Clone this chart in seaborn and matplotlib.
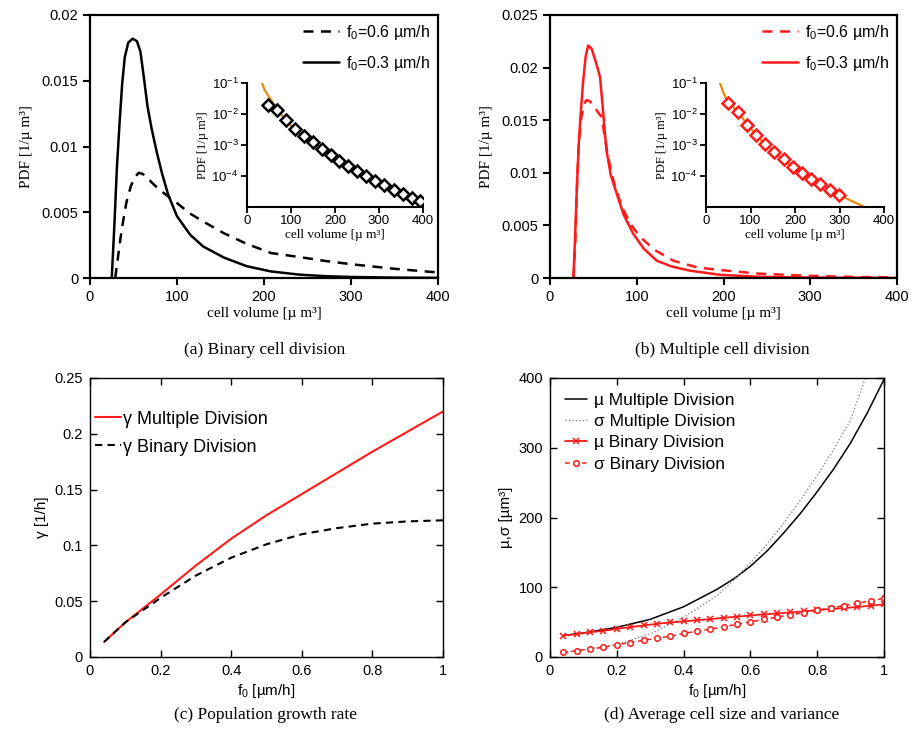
import numpy as np
import pandas as pd
import matplotlib
matplotlib.use("Agg")
import matplotlib.pyplot as plt
import seaborn as sns
from matplotlib.ticker import FixedLocator, NullLocator, FuncFormatter

# ---------------- data ----------------
# (a) binary division: cell-volume PDFs
vol_bin_03 = [25, 28, 31, 34, 37, 40, 44, 49, 54, 58, 62, 66, 71, 77, 83, 90, 100, 115, 130,
              154, 180, 208, 240, 270, 300, 350, 400]
pdf_bin_03 = [0.0, 0.004, 0.0085, 0.0118, 0.0148, 0.0168, 0.0179, 0.0182, 0.0180, 0.0172, 0.0152,
              0.0131, 0.0113, 0.0095, 0.0079, 0.0063, 0.0047, 0.0033, 0.0024, 0.00155, 0.0009,
              0.0005, 0.00026, 0.00014, 0.00008, 0.00003, 0.00001]
vol_bin_06 = [29, 32, 35, 38, 42, 47, 52, 56, 61, 66, 72, 80, 88, 100, 115, 130, 154, 180, 208,
              240, 270, 300, 350, 400]
pdf_bin_06 = [0.0, 0.0015, 0.003, 0.0043, 0.0058, 0.0070, 0.0077, 0.0080, 0.0079, 0.0076, 0.0072,
              0.0067, 0.0063, 0.0057, 0.0049, 0.0043, 0.0034, 0.0026, 0.0019, 0.0016, 0.0013,
              0.00105, 0.0007, 0.00042]

# (b) multiple division: cell-volume PDFs
vol_mul_03 = [27, 29, 31, 33, 35, 38, 41, 44, 48, 53, 57.7, 61, 65, 70, 77, 85, 96, 108, 123,
              140, 161, 196, 240, 300, 400]
pdf_mul_03 = [0.0, 0.004, 0.0086, 0.0125, 0.0152, 0.0185, 0.0210, 0.0221, 0.0218, 0.0205, 0.0191,
              0.0160, 0.0122, 0.0098, 0.0080, 0.0060, 0.0042, 0.0028, 0.00165, 0.0011, 0.0007,
              0.0003, 0.00012, 0.00004, 0.000005]
vol_mul_06 = [27, 29, 31, 33, 36, 39, 42, 46, 50, 55, 59.6, 63, 67, 73, 79, 85, 94, 104, 120,
              142, 170, 196, 240, 300, 350, 400]
pdf_mul_06 = [0.0, 0.003, 0.0085, 0.0125, 0.0152, 0.0165, 0.0169, 0.0168, 0.0164, 0.0158, 0.0153,
              0.0135, 0.0115, 0.0093, 0.0077, 0.0064, 0.0050, 0.0039, 0.0027, 0.00165, 0.0010,
              0.00076, 0.00042, 0.0002, 0.0001, 0.00005]

# insets: histogram points and fitted tail
hist_bin_vol = [47, 67.5, 88, 108, 128.5, 149, 169.5, 190, 210, 230.5, 251, 271.5, 292, 312,
                333, 353.5, 374, 394]
hist_bin_pdf = [0.0189, 0.0130, 0.00647, 0.00322, 0.00201, 0.00122, 0.00074, 0.000474, 0.00031,
                0.000208, 0.000147, 0.000099, 0.0000697, 0.0000504, 0.0000365, 0.000027,
                0.0000201, 0.0000153]
fit_bin_vol = [34, 40, 47, 57, 69, 88, 108, 128, 149, 170, 190, 210, 230, 251, 272, 292, 313,
               333, 354, 375, 400]
fit_bin_pdf = [0.1, 0.06, 0.042, 0.025, 0.0137, 0.0065, 0.0032, 0.0020, 0.00122, 0.00074,
               0.00047, 0.00031, 0.00021, 0.000147, 0.0001, 0.00007, 0.00005, 0.0000365,
               0.000027, 0.00002, 0.000014]

hist_mul_vol = [50, 72.4, 92, 112, 132.4, 153.3, 174.2, 194.4, 215.3, 235.5, 256.4, 278, 298.3]
hist_mul_pdf = [0.0225, 0.0112, 0.00446, 0.00211, 0.00105, 0.000593, 0.000343, 0.000198,
                0.000127, 0.000083, 0.0000543, 0.0000365, 0.0000251]
fit_mul_vol = [31.4, 40, 50, 72, 92, 112, 132, 153, 174, 194, 215, 236, 256, 278, 298, 327, 357]
fit_mul_pdf = [0.1, 0.045, 0.0245, 0.0115, 0.0047, 0.0022, 0.00107, 0.0006, 0.00034, 0.0002,
               0.000127, 0.000083, 0.000054, 0.0000365, 0.000025, 0.0000157, 0.00001]

# (c) population growth rate
f0_gamma = [0.04, 0.1, 0.2, 0.3, 0.4, 0.5, 0.6, 0.7, 0.8, 0.9, 1.0]
gamma_multiple = [0.0135, 0.031, 0.056, 0.082, 0.106, 0.127, 0.146, 0.165, 0.184, 0.202, 0.220]
gamma_binary = [0.0135, 0.031, 0.053, 0.073, 0.089, 0.101, 0.110, 0.1155, 0.1195, 0.1215, 0.1225]

# (d) mean and spread of cell size
f0_binary = [0.04, 0.08, 0.12, 0.16, 0.20, 0.24, 0.28, 0.32, 0.36, 0.40, 0.44, 0.48, 0.52,
             0.56, 0.60, 0.64, 0.68, 0.72, 0.76, 0.80, 0.84, 0.88, 0.92, 0.96, 1.00]
mu_binary = [30.8, 32.7, 35.6, 37.5, 40.4, 42.8, 45.2, 47.6, 49.5, 51.0, 52.9, 54.3, 56.3, 57.7,
             59.6, 61.1, 62.5, 63.9, 65.4, 67.3, 68.8, 70.2, 71.6, 73.6, 75.5]
sigma_binary = [6.7, 9.1, 11.5, 13.9, 17.8, 20.7, 24.0, 26.9, 29.8, 33.7, 37.0, 39.9, 43.3, 47.1,
                50.5, 53.8, 57.2, 60.6, 63.5, 67.3, 70.2, 73.6, 76.9, 80.8, 84.1]
f0_multiple = [0.04, 0.1, 0.2, 0.3, 0.4, 0.5, 0.55, 0.6, 0.65, 0.7, 0.75, 0.8, 0.85, 0.9, 0.95, 1.0]
mu_multiple = [30.8, 34.5, 42.5, 54, 72, 97, 112, 130, 152, 178, 206, 237, 270, 307, 350, 398]
sigma_multiple = [7, 10, 18, 33, 57, 88, 110, 135, 162, 192, 225, 260, 298, 340, 408, 480]

# ---------------- style ----------------
sns.set_style("ticks")
plt.rcParams["font.family"] = ["Liberation Sans", "DejaVu Sans"]
plt.rcParams["mathtext.fontset"] = "custom"
plt.rcParams["mathtext.rm"] = "Liberation Sans"
plt.rcParams["mathtext.it"] = "Liberation Sans:italic"
for k in ["axes.edgecolor", "axes.labelcolor", "text.color", "xtick.color", "ytick.color"]:
    plt.rcParams[k] = "black"

SERIF = ["Liberation Serif", "DejaVu Serif"]
ORANGE = "#e8890c"
RED = "#ff1a1a"
W, H = 917, 742

fig = plt.figure(figsize=(W / 100, H / 100), dpi=100)


def box(l, t, r, b):
    return [l / W, 1 - b / H, (r - l) / W, (b - t) / H]


gfmt = FuncFormatter(lambda v, p: "%g" % v)


def pdf_panel(ax, v6, p6, v3, p3, color, ymax, yticks):
    sns.lineplot(x=v6, y=p6, ax=ax, color=color, linewidth=1.8, linestyle=(0, (4, 3)),
                 label=r"$\mathregular{f_0}$=0.6 µm/h")
    sns.lineplot(x=v3, y=p3, ax=ax, color=color, linewidth=1.8,
                 label=r"$\mathregular{f_0}$=0.3 µm/h")
    ax.set_xlim(0, 400)
    ax.set_ylim(0, ymax)
    ax.xaxis.set_major_locator(FixedLocator([0, 100, 200, 300, 400]))
    ax.yaxis.set_major_locator(FixedLocator(yticks))
    ax.yaxis.set_major_formatter(gfmt)
    ax.tick_params(direction="out", length=5, width=1.5, labelsize=10.5, top=False, right=False)
    for s in ax.spines.values():
        s.set_linewidth(1.6)
    ax.set_xlabel("cell volume [µ m³]", family=SERIF, fontsize=11, labelpad=2)
    ax.set_ylabel("PDF [1/µ m³]", family=SERIF, fontsize=11, labelpad=6)
    ax.legend(loc="upper right", frameon=False, fontsize=11.5, handlelength=2.3,
              handletextpad=0.4, labelspacing=0.75, borderaxespad=0.2, borderpad=0.3)


def inset(ax, hv, hp, fv, fp, mcolor):
    sns.lineplot(x=fv, y=fp, ax=ax, color=ORANGE, linewidth=1.6)
    sns.lineplot(x=hv, y=hp, ax=ax, linestyle="", marker="D", markersize=6.5,
                 markerfacecolor="white", markeredgecolor=mcolor, markeredgewidth=1.8)
    ax.set_yscale("log")
    ax.set_xlim(0, 400)
    ax.set_ylim(1e-5, 1e-1)
    ax.yaxis.set_major_locator(FixedLocator([1e-4, 1e-3, 1e-2, 1e-1]))
    ax.yaxis.set_minor_locator(NullLocator())
    ax.xaxis.set_major_locator(FixedLocator([0, 100, 200, 300, 400]))
    ax.tick_params(direction="out", length=4, width=1.3, labelsize=9.5, pad=2)
    ax.spines["top"].set_visible(False)
    ax.spines["right"].set_visible(False)
    for s in ["left", "bottom"]:
        ax.spines[s].set_linewidth(1.5)
    ax.patch.set_alpha(0)
    ax.set_xlabel("cell volume [µ m³]", family=SERIF, fontsize=9.5, labelpad=1)
    ax.set_ylabel("PDF [1/µ m³]", family=SERIF, fontsize=9, labelpad=2)


# (a)
ax_a = fig.add_axes(box(90, 15, 438, 278))
pdf_panel(ax_a, vol_bin_06, pdf_bin_06, vol_bin_03, pdf_bin_03, "black", 0.02,
          [0, 0.005, 0.01, 0.015, 0.02])
ax_ai = fig.add_axes(box(247, 83, 423, 207))
inset(ax_ai, hist_bin_vol, hist_bin_pdf, fit_bin_vol, fit_bin_pdf, "black")

# (b)
ax_b = fig.add_axes(box(550, 15, 897, 278))
pdf_panel(ax_b, vol_mul_06, pdf_mul_06, vol_mul_03, pdf_mul_03, RED, 0.025,
          [0, 0.005, 0.01, 0.015, 0.02, 0.025])
ax_bi = fig.add_axes(box(706, 83, 884, 207))
inset(ax_bi, hist_mul_vol, hist_mul_pdf, fit_mul_vol, fit_mul_pdf, RED)


def lower_axes(ax, ymax, yticks):
    ax.set_xlim(0, 1)
    ax.set_ylim(0, ymax)
    ax.xaxis.set_major_locator(FixedLocator([0, 0.2, 0.4, 0.6, 0.8, 1.0]))
    ax.yaxis.set_major_locator(FixedLocator(yticks))
    ax.xaxis.set_major_formatter(gfmt)
    ax.yaxis.set_major_formatter(gfmt)
    ax.tick_params(direction="in", length=5, width=1.0, labelsize=10.5, top=True, right=True,
                   pad=5)
    for s in ax.spines.values():
        s.set_linewidth(1.0)
    ax.set_xlabel(r"$\mathregular{f_0}$ [µm/h]", fontsize=11, labelpad=3)


# (c)
ax_c = fig.add_axes(box(90, 378, 443, 657))
sns.lineplot(x=f0_gamma, y=gamma_multiple, ax=ax_c, color=RED, linewidth=1.5,
             label="γ Multiple Division")
sns.lineplot(x=f0_gamma, y=gamma_binary, ax=ax_c, color="black", linewidth=1.5,
             linestyle=(0, (3.5, 2.5)), label="γ Binary Division")
lower_axes(ax_c, 0.25, [0, 0.05, 0.1, 0.15, 0.2, 0.25])
ax_c.set_ylabel("γ [1/h]", fontsize=11, labelpad=4)
ax_c.legend(loc="upper left", bbox_to_anchor=(-0.012, 0.915), frameon=False, fontsize=13,
            handlelength=1.45, handletextpad=0.1, labelspacing=0.6, borderpad=0)

# (d)
ax_d = fig.add_axes(box(550, 378, 884, 657))
sns.lineplot(x=f0_multiple, y=mu_multiple, ax=ax_d, color="black", linewidth=1.1,
             label="µ Multiple Division")
sns.lineplot(x=f0_multiple, y=sigma_multiple, ax=ax_d, color="#8c8c8c", linewidth=1.0,
             linestyle=(0, (1, 1.5)), label="σ Multiple Division")
sns.lineplot(x=f0_binary, y=mu_binary, ax=ax_d, color=RED, linewidth=1.3, marker="x",
             markersize=4.5, markeredgewidth=1.1, markeredgecolor=RED,
             label="µ Binary Division")
sns.lineplot(x=f0_binary, y=sigma_binary, ax=ax_d, color=RED, linewidth=1.1,
             linestyle=(0, (3, 2.5)), marker="o", markersize=4, markerfacecolor="white",
             markeredgecolor=RED, markeredgewidth=1.1, label="σ Binary Division")
lower_axes(ax_d, 400, [0, 100, 200, 300, 400])
ax_d.set_ylabel("µ,σ [µm³]", fontsize=11, labelpad=4)
ax_d.legend(loc="upper left", bbox_to_anchor=(0.0, 1.0), frameon=False, fontsize=12.5,
            handlelength=1.3, handletextpad=0.4, labelspacing=0.35, borderpad=0.35)

# captions
cap = dict(family=SERIF, fontsize=12.5, ha="center", va="center")
fig.text(265 / W, 1 - 350 / H, "(a) Binary cell division", **cap)
fig.text(722 / W, 1 - 350 / H, "(b) Multiple cell division", **cap)
fig.text(265 / W, 1 - 715 / H, "(c) Population growth rate", **cap)
fig.text(722 / W, 1 - 715 / H, "(d) Average cell size and variance", **cap)

fig.savefig("out.png", dpi=100)
